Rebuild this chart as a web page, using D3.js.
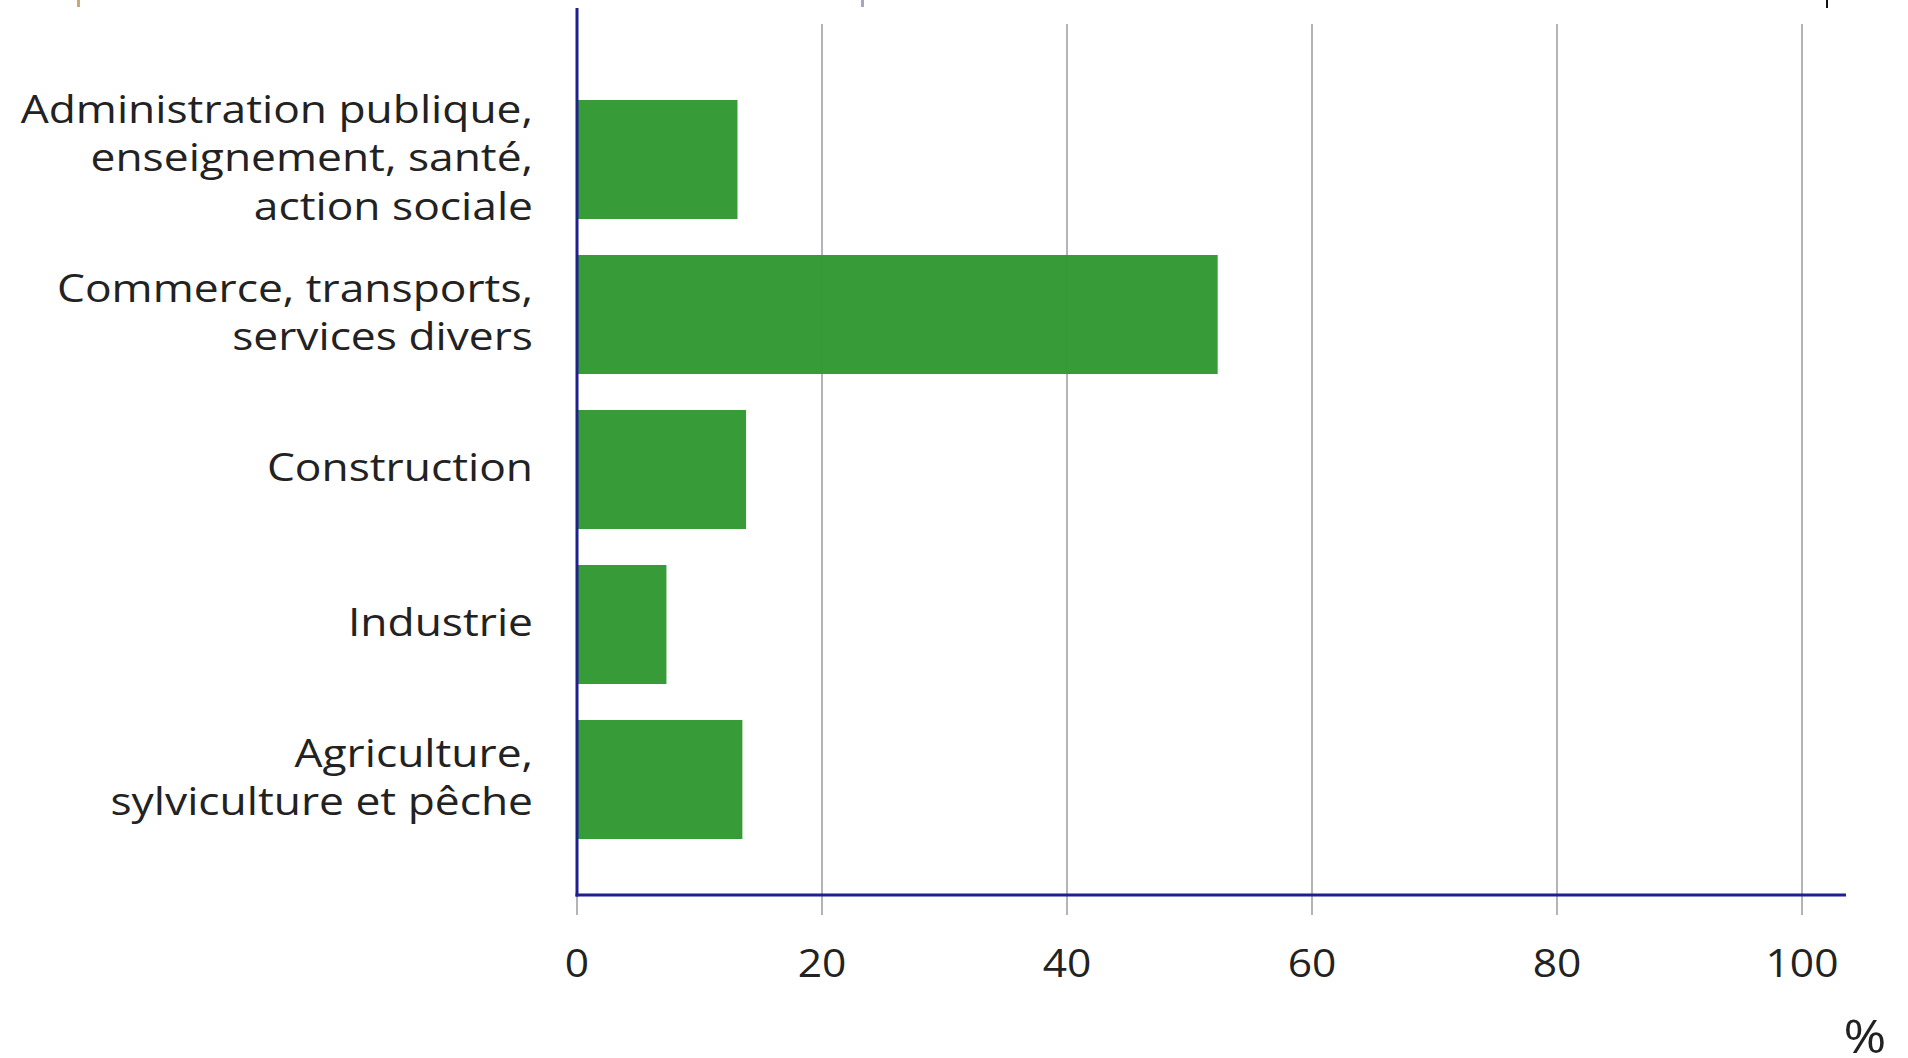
<!DOCTYPE html>
<html>
<head>
<meta charset="utf-8">
<script src="https://cdn.jsdelivr.net/npm/d3@7"></script>
<style>
  body { margin: 0; background: #fff; }
  text { font-family: "Open Sans", sans-serif; fill: #222; }
</style>
</head>
<body>
<div id="chart"></div>
<script>
// secteurs d'activite (haut -> bas)
var sectors = [
  ["Administration publique,", "enseignement, santé,", "action sociale"],
  ["Commerce, transports,", "services divers"],
  ["Construction"],
  ["Industrie"],
  ["Agriculture,", "sylviculture et pêche"]
];
var shares = [13.1, 52.3, 13.8, 7.3, 13.5];
var xTicks = [0, 20, 40, 60, 80, 100];

var svgWidth = 1908;
var svgHeight = 1058;

var svg = d3.select("#chart")
  .append("svg")
  .attr("width", svgWidth)
  .attr("height", svgHeight);

var x0 = 577, x100 = 1802;
var xScale = d3.scaleLinear().domain([0, 100]).range([x0, x100]);

var yScale = d3.scaleBand()
  .domain(d3.range(sectors.length))
  .range([82, 857])
  .paddingInner(0.232)
  .paddingOuter(0.116);

var axisY = 895;
// the source text is drawn a bit wider than Open Sans
var stretch = 1.167;

// small marks cut at the top edge
svg.append("rect").attr("x", 77).attr("y", 0).attr("width", 3).attr("height", 7).attr("fill", "#c9a77a");
svg.append("rect").attr("x", 861).attr("y", 0).attr("width", 3).attr("height", 7).attr("fill", "#b0a0c8");
svg.append("rect").attr("x", 1826).attr("y", 0).attr("width", 2).attr("height", 8).attr("fill", "#111");

// gridlines + ticks
svg.append("g")
  .selectAll("line")
  .data(xTicks)
  .join("line")
  .attr("x1", d => xScale(d))
  .attr("x2", d => xScale(d))
  .attr("y1", 24)
  .attr("y2", 915)
  .attr("stroke", "#b4b4b4")
  .attr("stroke-width", 2);

// bars
svg.append("g")
  .selectAll("rect")
  .data(shares)
  .join("rect")
  .attr("x", xScale(0))
  .attr("y", (d, i) => yScale(i))
  .attr("width", d => xScale(d) - xScale(0))
  .attr("height", yScale.bandwidth())
  .attr("fill", "#339933")
  .attr("fill-opacity", 0.98);

// axes lines
svg.append("line")
  .attr("x1", x0).attr("x2", x0)
  .attr("y1", 8).attr("y2", axisY + 1.5)
  .attr("stroke", "#1f1f8f").attr("stroke-width", 3);

svg.append("line")
  .attr("x1", x0 - 1.5).attr("x2", 1846)
  .attr("y1", axisY).attr("y2", axisY)
  .attr("stroke", "#1f1f8f").attr("stroke-width", 3);

// tick labels
svg.append("g")
  .selectAll("text")
  .data(xTicks)
  .join("text")
  .attr("transform", d => `translate(${xScale(d)}, 962) scale(1.12, 1)`)
  .attr("text-anchor", "middle")
  .attr("dominant-baseline", "central")
  .style("font-size", "38px")
  .text(d => d);

svg.append("text")
  .attr("transform", `translate(1865, 1035) scale(1.15, 1)`)
  .attr("text-anchor", "middle")
  .attr("dominant-baseline", "central")
  .style("font-size", "45px")
  .text("%");

// category labels
var lineH = 48.5;
var labels = svg.append("g")
  .selectAll("text")
  .data(sectors)
  .join("text")
  .attr("text-anchor", "end")
  .style("font-size", "38px")
  .attr("transform", (d, i) => `translate(533, ${yScale(i) + yScale.bandwidth() / 2 - 3}) scale(${stretch}, 1)`);

labels.selectAll("tspan")
  .data(d => d.map((t, j) => ({t: t, j: j, n: d.length})))
  .join("tspan")
  .attr("x", 0)
  .attr("y", d => (d.j - (d.n - 1) / 2) * lineH)
  .attr("dominant-baseline", "central")
  .text(d => d.t);
</script>
</body>
</html>
